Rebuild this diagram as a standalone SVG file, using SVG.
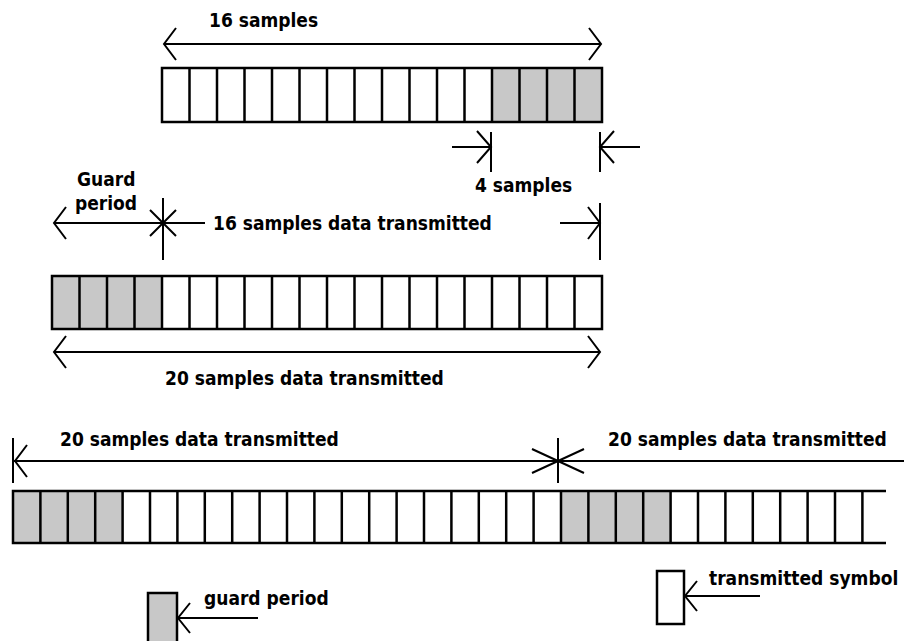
<svg xmlns="http://www.w3.org/2000/svg" width="904" height="641" viewBox="0 0 904 641">
  <style>
    .bg { fill: #ffffff; }
    .cell { fill: none; stroke: #000; stroke-width: 2.5; }
    .frame { fill: none; stroke: #000; stroke-width: 2.5; }
    .guard { fill: #c8c8c8; stroke: none; }
    .dim { fill: none; stroke: #000; stroke-width: 2; stroke-linecap: butt; }
    .head { fill: none; stroke: #000; stroke-width: 2; stroke-linejoin: miter; }
    .lbl { font-family: "DejaVu Sans Condensed", "DejaVu Sans", sans-serif; font-weight: bold; font-size: 19px; fill: #000; }
  </style>
  <rect class="bg" x="0" y="0" width="904" height="641"/>

  <!-- 16-sample OFDM symbol, last 4 samples shaded -->
  <g id="bar-symbol">
    <rect class="guard" x="492" y="68" width="110" height="54"/>
    <path class="cell" d="M189.5 68V122M217 68V122M244.5 68V122M272 68V122M299.5 68V122M327 68V122M354.5 68V122M382 68V122M409.5 68V122M437 68V122M464.5 68V122M492 68V122M519.5 68V122M547 68V122M574.5 68V122"/>
    <rect class="frame" x="162" y="68" width="440" height="54"/>
  </g>

  <!-- symbol with cyclic prefix copied to the front -->
  <g id="bar-guarded">
    <rect class="guard" x="52" y="276" width="110" height="53"/>
    <path class="cell" d="M79.5 276V329M107 276V329M134.5 276V329M162 276V329M189.5 276V329M217 276V329M244.5 276V329M272 276V329M299.5 276V329M327 276V329M354.5 276V329M382 276V329M409.5 276V329M437 276V329M464.5 276V329M492 276V329M519.5 276V329M547 276V329M574.5 276V329"/>
    <rect class="frame" x="52" y="276" width="550" height="53"/>
  </g>

  <!-- continuous stream of consecutive guarded symbols -->
  <g id="bar-stream">
    <rect class="guard" x="13" y="491" width="109.6" height="52"/>
    <rect class="guard" x="561" y="491" width="109.6" height="52"/>
    <path class="cell" d="M40.4 491V543M67.8 491V543M95.2 491V543M122.6 491V543M150 491V543M177.4 491V543M204.8 491V543M232.2 491V543M259.6 491V543M287 491V543M314.4 491V543M341.8 491V543M369.2 491V543M396.6 491V543M424 491V543M451.4 491V543M478.8 491V543M506.2 491V543M533.6 491V543M561 491V543M588.4 491V543M615.8 491V543M643.2 491V543M670.6 491V543M698 491V543M725.4 491V543M752.8 491V543M780.2 491V543M807.6 491V543M835 491V543M862.4 491V543"/>
    <path class="frame" d="M886 491H13V543H886"/>
  </g>

  <!-- legend -->
  <g id="legend-guard">
    <rect x="148" y="593" width="29" height="52" fill="#c8c8c8" stroke="#000" stroke-width="2.5"/>
    <text class="lbl" x="204" y="605">guard period</text>
  </g>
  <g id="legend-symbol">
    <rect x="657" y="571" width="27" height="53" fill="#fff" stroke="#000" stroke-width="2.5"/>
    <text class="lbl" x="709" y="585">transmitted symbol</text>
  </g>

  <!-- dimension lines and pointers -->
  <g id="connectors">
    <!-- 16 samples -->
    <path class="dim" d="M164 44H601"/>
    <path class="head" d="M176 28L164 44L176 60M589 28L601 44L589 60"/>
    <!-- 4 samples -->
    <path class="dim" d="M452 147H491M491 132V172M600 147H640M600 132V172"/>
    <path class="head" d="M477 131L491 147L477 163M614 131L600 147L614 163"/>
    <!-- guard period / 16 samples data transmitted -->
    <path class="dim" d="M54 223H205M163 198V260M150 210L176 236M176 210L150 236"/>
    <path class="head" d="M66 207L54 223L66 239"/>
    <path class="dim" d="M560 223H600M600 203V260"/>
    <path class="head" d="M588 207L600 223L588 239"/>
    <!-- 20 samples data transmitted -->
    <path class="dim" d="M54 352H600"/>
    <path class="head" d="M66 336L54 352L66 368M588 336L600 352L588 368"/>
    <!-- stream: symbol boundaries -->
    <path class="dim" d="M13 461H904M13 438V483M558 438V483M532 449L584 473M584 449L532 473"/>
    <path class="head" d="M27 445L15 461L27 477"/>
    <!-- legend pointers -->
    <path class="dim" d="M178 618H258M685 596H760"/>
    <path class="head" d="M190 603L178 618L190 633M697 581L685 596L697 611"/>
  </g>

  <g id="labels">
    <text class="lbl" x="209" y="27">16 samples</text>
    <text class="lbl" x="475" y="192">4 samples</text>
    <text class="lbl" x="77" y="186">Guard</text>
    <text class="lbl" x="75" y="210">period</text>
    <text class="lbl" x="213" y="230">16 samples data transmitted</text>
    <text class="lbl" x="165" y="385">20 samples data transmitted</text>
    <text class="lbl" x="60" y="446">20 samples data transmitted</text>
    <text class="lbl" x="608" y="446">20 samples data transmitted</text>
  </g>
</svg>
